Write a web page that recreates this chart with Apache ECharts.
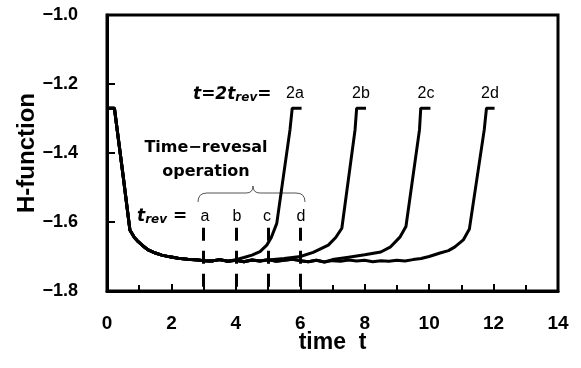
<!DOCTYPE html>
<html>
<head>
<meta charset="UTF-8">
<title>H-function</title>
<script src="https://cdn.jsdelivr.net/npm/echarts@6/dist/echarts.min.js"></script>
<style>
  html, body { margin: 0; padding: 0; background: #fff; }
</style>
</head>
<body>
<div id="chart" style="width:581px;height:368px"></div>
<script>
    // initial decay, shared by all runs (t 0..3)
    var decayT = [0, 0.23, 0.30, 0.50, 0.71, 0.85, 0.97, 1.10, 1.28, 1.50, 1.70, 1.95, 2.21, 2.50, 2.83, 3.0];
    var decayH = [-1.27, -1.27, -1.321, -1.466, -1.623, -1.645, -1.657, -1.668, -1.681, -1.690, -1.696, -1.701, -1.705, -1.708, -1.710, -1.712];

    // equilibrium plateau
    var flatT = [3.25, 3.5, 3.75, 4.0, 4.25, 4.5, 4.75, 5.0, 5.25, 5.5, 5.75, 6.0, 6.25, 6.5, 6.75, 7.0, 7.25, 7.5, 7.75, 8.0, 8.25, 8.5, 8.75, 9.0, 9.25, 9.5];
    var flatH = [-1.713, -1.709, -1.714, -1.711, -1.715, -1.710, -1.713, -1.709, -1.714, -1.711, -1.708, -1.712, -1.715, -1.711, -1.716, -1.712, -1.714, -1.710, -1.713, -1.711, -1.715, -1.712, -1.714, -1.711, -1.713, -1.709];

    // recovery after the time reversal at t_rev = a, b, c, d
    var riseAT = [4.0, 4.25, 4.5, 4.75, 4.96, 5.1, 5.27, 5.68, 5.75, 6.04];
    var riseAH = [-1.709, -1.703, -1.696, -1.686, -1.667, -1.645, -1.604, -1.333, -1.27, -1.27];
    var riseBT = [5.0, 5.5, 6.0, 6.4, 6.87, 7.1, 7.29, 7.70, 7.75, 8.04];
    var riseBH = [-1.710, -1.706, -1.700, -1.688, -1.667, -1.645, -1.618, -1.333, -1.27, -1.27];
    var riseCT = [7.0, 7.5, 8.0, 8.5, 8.79, 9.10, 9.28, 9.70, 9.74, 10.04];
    var riseCH = [-1.709, -1.702, -1.695, -1.687, -1.673, -1.643, -1.613, -1.333, -1.27, -1.27];
    var riseDT = [9.75, 10.0, 10.34, 10.6, 10.80, 11.06, 11.25, 11.71, 11.78, 12.03];
    var riseDH = [-1.706, -1.700, -1.690, -1.683, -1.672, -1.652, -1.620, -1.333, -1.27, -1.27];

    var trev = [3, 4, 5, 6];
    var trevNames = ['a', 'b', 'c', 'd'];
    var endNames = ['2a', '2b', '2c', '2d'];

    function buildRun(riseT, riseH) {
        var res = [];
        for (var i = 0; i < decayT.length; i++) res.push([decayT[i], decayH[i]]);
        for (var j = 0; j < flatT.length; j++) {
            if (flatT[j] < riseT[0]) res.push([flatT[j], flatH[j]]);
        }
        for (var k = 0; k < riseT.length; k++) res.push([riseT[k], riseH[k]]);
        return res;
    }

    var runs = [buildRun(riseAT, riseAH), buildRun(riseBT, riseBH),
                buildRun(riseCT, riseCH), buildRun(riseDT, riseDH)];

    var numFont = 'Liberation Sans, Arial, sans-serif';
    var dvFont = 'DejaVu Sans, sans-serif';

    var series = runs.map(function (d, i) {
        return {
            name: endNames[i],
            type: 'line',
            data: d,
            symbol: 'none',
            lineStyle: { color: '#000', width: 3 },
            z: 3
        };
    });

    // dashed markers at t_rev
    series[0].markLine = {
        silent: true,
        symbol: 'none',
        label: { show: false },
        lineStyle: { color: '#000', width: 3, type: [13, 10] },
        data: trev.map(function (t) {
            return [{ coord: [t, -1.617] }, { coord: [t, -1.8] }];
        })
    };

    var graphics = [];
    var endX = [295, 361, 426, 490];
    endNames.forEach(function (n, i) {
        graphics.push({
            type: 'text', x: endX[i], y: 94,
            style: { text: n, font: '16px ' + numFont, fill: '#000', align: 'center', verticalAlign: 'middle' }
        });
    });
    var trevX = [205, 237, 267, 301];
    trevNames.forEach(function (n, i) {
        graphics.push({
            type: 'text', x: trevX[i], y: 217,
            style: { text: n, font: '16px ' + numFont, fill: '#000', align: 'center', verticalAlign: 'middle' }
        });
    });
    var richStyle = {
        i: { fontFamily: dvFont, fontWeight: 'bold', fontStyle: 'italic', fontSize: 17, color: '#000' },
        s: { fontFamily: dvFont, fontWeight: 'bold', fontStyle: 'italic', fontSize: 12, color: '#000', padding: [5, 0, 0, 0] }
    };
    graphics.push({
        type: 'text', x: 193, y: 95,
        style: { text: '{i|t=2t}{s|rev}{i|=}', verticalAlign: 'middle', rich: richStyle }
    });
    graphics.push({
        type: 'text', x: 137, y: 217,
        style: { text: '{i|t}{s|rev}{i| =}', verticalAlign: 'middle', rich: richStyle }
    });
    graphics.push({
        type: 'text', x: 206, y: 148,
        style: { text: 'Time\u2212revesal', font: 'bold 16px ' + dvFont, fill: '#000', align: 'center', verticalAlign: 'middle' }
    });
    graphics.push({
        type: 'text', x: 206, y: 172,
        style: { text: 'operation', font: 'bold 16px ' + dvFont, fill: '#000', align: 'center', verticalAlign: 'middle' }
    });
    // curly brace over a..d
    var braceStyle = { stroke: '#555', lineWidth: 1, fill: null };
    graphics.push(
        { type: 'bezierCurve', shape: { x1: 198, y1: 202, cpx1: 198, cpy1: 193, x2: 207, y2: 193 }, style: braceStyle },
        { type: 'line', shape: { x1: 207, y1: 193, x2: 246, y2: 193 }, style: braceStyle },
        { type: 'bezierCurve', shape: { x1: 246, y1: 193, cpx1: 253, cpy1: 193, x2: 253, y2: 186 }, style: braceStyle },
        { type: 'bezierCurve', shape: { x1: 253, y1: 186, cpx1: 253, cpy1: 193, x2: 260, y2: 193 }, style: braceStyle },
        { type: 'line', shape: { x1: 260, y1: 193, x2: 296, y2: 193 }, style: braceStyle },
        { type: 'bezierCurve', shape: { x1: 296, y1: 193, cpx1: 305, cpy1: 193, x2: 305, y2: 202 }, style: braceStyle }
    );

    var chart = echarts.init(document.getElementById('chart'));
    chart.setOption({
        animation: false,
        backgroundColor: '#fff',
        grid: { left: 107, right: 23, top: 15, bottom: 77, show: true, borderColor: '#000', borderWidth: 3 },
        xAxis: {
            type: 'value', min: 0, max: 14, interval: 2,
            name: 'time  t', nameLocation: 'middle', nameGap: 40, nameMoveOverlap: false,
            nameTextStyle: { fontFamily: numFont, fontWeight: 'bold', fontSize: 23, color: '#000' },
            axisLine: { lineStyle: { color: '#000', width: 3 } },
            axisTick: { inside: true, length: 7, lineStyle: { color: '#000', width: 2 } },
            minorTick: { show: true, splitNumber: 2, length: 6, lineStyle: { color: '#000', width: 2 } },
            axisLabel: { margin: 23, fontFamily: numFont, fontWeight: 'bold', fontSize: 19, color: '#000' },
            splitLine: { show: false }
        },
        yAxis: {
            type: 'value', min: -1.8, max: -1.0, interval: 0.2,
            name: 'H-function', nameLocation: 'middle', nameGap: 68, nameMoveOverlap: false,
            nameTextStyle: { fontFamily: numFont, fontWeight: 'bold', fontSize: 24, color: '#000' },
            axisLine: { lineStyle: { color: '#000', width: 3 } },
            axisTick: { inside: true, length: 8, lineStyle: { color: '#000', width: 2 } },
            axisLabel: {
                margin: 29, fontFamily: numFont, fontWeight: 'bold', fontSize: 18, color: '#000',
                formatter: function (v) { return v.toFixed(1).replace('-', '\u2212'); }
            },
            splitLine: { show: false }
        },
        series: series,
        graphic: graphics
    });
</script>
</body>
</html>
